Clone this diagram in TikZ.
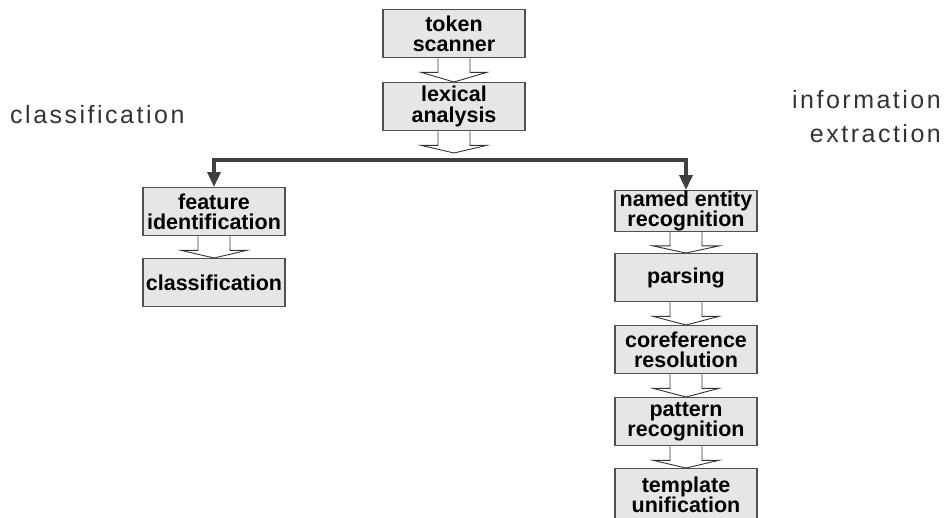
\documentclass[tikz,border=0pt]{standalone}
\usepackage{fontspec}
\setmainfont{Liberation Sans}
\newfontfamily\labelfont[LetterSpace=10]{Liberation Sans}
\usetikzlibrary{arrows.meta,calc,backgrounds}
\definecolor{boxfill}{HTML}{E6E6E6}
\definecolor{boxline}{HTML}{505050}
\definecolor{flowline}{HTML}{404040}
\definecolor{labelgray}{HTML}{333333}

\tikzset{
  stage/.style={draw=boxline, fill=boxfill, line width=1.3pt,
    minimum width=142pt, minimum height=48pt, inner sep=0pt,
    align=center, anchor=north,
    font=\bfseries\fontsize{21.5}{20.5}\selectfont},
  hollow/.style={draw=black!80, fill=white, line width=0.9pt, line join=miter},
  branch/.style={draw=flowline, line width=3.5pt,
    {Triangle[length=15pt,width=13pt]}-{Triangle[length=15pt,width=13pt]}},
  sidelabel/.style={font=\labelfont\fontsize{25}{25}\selectfont,
    text=labelgray, inner sep=0pt},
}

% open block arrow hanging below node #1, tip at #2
\newcommand{\hollowarrow}[2]{%
  \draw[hollow] ($(#1.south)+(-16,0)$) -- ++(0,14) -- ++(-17,0) -- (#2)
    -- ($(#1.south)+(33,14)$) -- ++(-17,0) -- ($(#1.south)+(16,0)$);}

\begin{document}
\begin{tikzpicture}[x=1pt,y=-1pt]
\useasboundingbox (0,0) rectangle (944,517);

% shared front end
\node[stage] (tok) at (454,9) {token\\scanner};
\node[stage] (lex) at (454,82) {lexical\\analysis};

% classification branch
\node[stage] (feat) at (214,187) {feature\\identification};
\node[stage] (cls) at (214,258) {classification};

% information extraction branch
\node[stage, minimum height=39pt] (ner) at (686,190) {named entity\\recognition};
\node[stage] (par) at (686,253) {parsing};
\node[stage] (cor) at (686,325) {coreference\\resolution};
\node[stage] (pat) at (686,397) {pattern\\recognition};
\node[stage, minimum height=52pt] (tpl) at (686,468) {template\\unification};

\coordinate (lexend) at (454,153);
\coordinate (split) at (454,160);

% fork to both branches
\draw[branch] (feat.north) -- (feat.north |- split) -- (ner.north |- split) -- (ner.north);

% side labels
\node[sidelabel, anchor=base west] (lblcls) at (10,123) {classification};
\node[sidelabel, anchor=base east] (lblinfo) at (941,108) {information};
\node[sidelabel, anchor=base east] (lblext) at (941,142) {extraction};

\begin{scope}[on background layer]
  \hollowarrow{tok}{lex.north}
  \hollowarrow{lex}{lexend}
  \hollowarrow{feat}{cls.north}
  \hollowarrow{ner}{par.north}
  \hollowarrow{par}{cor.north}
  \hollowarrow{cor}{pat.north}
  \hollowarrow{pat}{tpl.north}
\end{scope}
\end{tikzpicture}
\end{document}
